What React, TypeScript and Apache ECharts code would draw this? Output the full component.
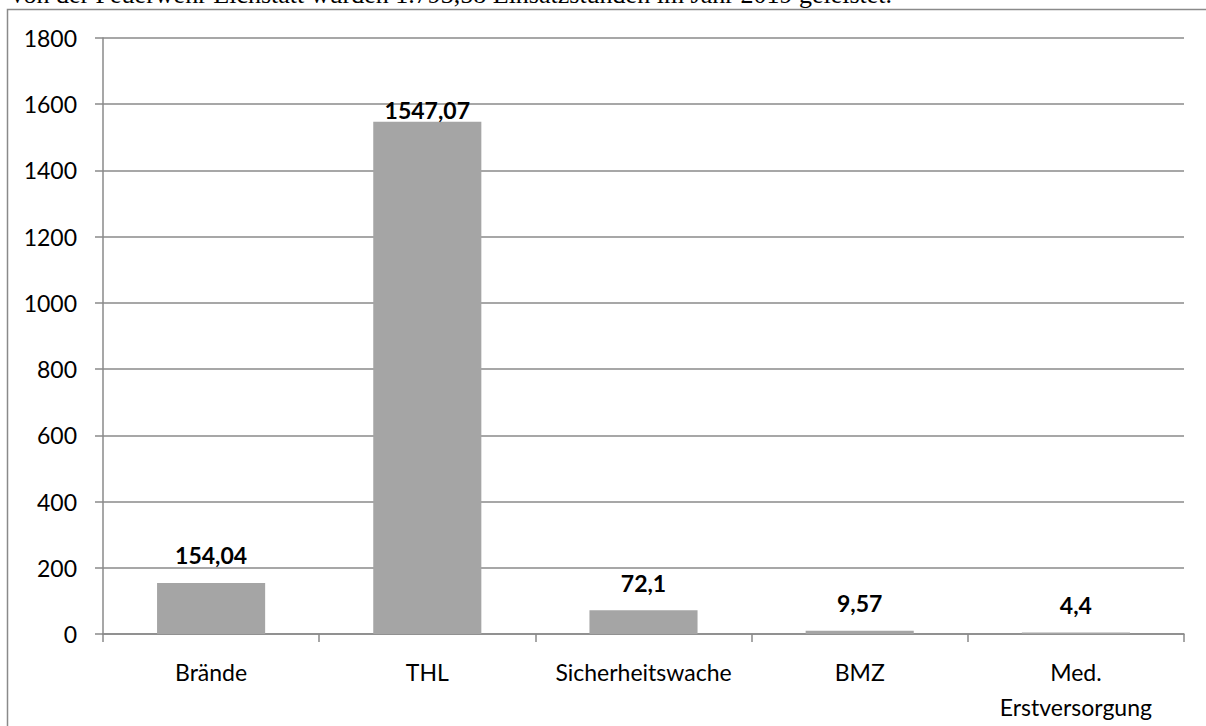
import React, { useEffect, useRef } from "react";
import * as echarts from "echarts";

const titleText = "Von der Feuerwehr Eichstätt wurden 1.793,58 Einsatzstunden im Jahr 2019 geleistet.";
const categories = ["Brände", "THL", "Sicherheitswache", "BMZ", "Med.\nErstversorgung"];
const hours = [154.04, 1547.07, 72.1, 9.57, 4.4];
const labelDistances = [16, 0, 16, 16, 16];
const yMin = 0;
const yMax = 1800;
const yStep = 200;

const FONT = "Lato, 'Noto Sans', sans-serif";
const GRAY = "#8a8a8a";

export default function App() {
  const ref = useRef<HTMLDivElement>(null);
  useEffect(() => {
    if (!ref.current) return;
    const chart = echarts.init(ref.current, null, { renderer: "svg" });
    chart.setOption({
      animation: false,
      backgroundColor: "#ffffff",
      textStyle: { fontFamily: FONT },
      grid: { left: 103, right: 22, top: 38, bottom: 92, containLabel: false },
      graphic: [
        {
          type: "rect",
          shape: { x: 7.5, y: 9.5, width: 1210, height: 730 },
          style: { fill: "none", stroke: GRAY, lineWidth: 1.5 },
          silent: true,
          z: -1,
        },
        {
          type: "text",
          x: 8,
          y: 7,
          style: {
            text: titleText,
            fontFamily: "'Liberation Serif', 'DejaVu Serif', serif",
            fontSize: 26,
            fill: "#000",
            verticalAlign: "bottom",
            align: "left",
          },
        },
      ],
      xAxis: {
        type: "category",
        data: categories,
        axisLine: { show: true, lineStyle: { color: GRAY, width: 1.5 } },
        axisTick: { show: true, length: 8, alignWithLabel: false, lineStyle: { color: GRAY, width: 1.5 } },
        axisLabel: {
          color: "#000",
          fontFamily: FONT,
          fontSize: 23,
          lineHeight: 35,
          margin: 20,
          interval: 0,
        },
        splitLine: { show: false },
      },
      yAxis: {
        type: "value",
        min: yMin,
        max: yMax,
        interval: yStep,
        axisLine: { show: true, lineStyle: { color: GRAY, width: 1.5 } },
        axisTick: { show: true, length: 8, lineStyle: { color: GRAY, width: 1.5 } },
        axisLabel: {
          color: "#000",
          fontFamily: FONT,
          fontSize: 23,
          margin: 26,
          formatter: (v: number) => String(v),
        },
        splitLine: { show: true, lineStyle: { color: GRAY, width: 1.5 } },
      },
      series: [
        {
          type: "bar",
          data: hours.map((v, i) => ({ value: v, label: { distance: labelDistances[i] } })),
          barCategoryGap: "50%",
          itemStyle: { color: "#a5a5a5" },
          label: {
            show: true,
            position: "top",
            color: "#000",
            fontWeight: "bold",
            fontFamily: FONT,
            fontSize: 23,
            formatter: (p: any) => String(p.value).replace(".", ","),
          },
        },
      ],
    });
    return () => chart.dispose();
  }, []);
  return (
    <div
      ref={ref}
      style={{ position: "fixed", left: 0, top: 0, width: 1206, height: 726 }}
    />
  );
}
